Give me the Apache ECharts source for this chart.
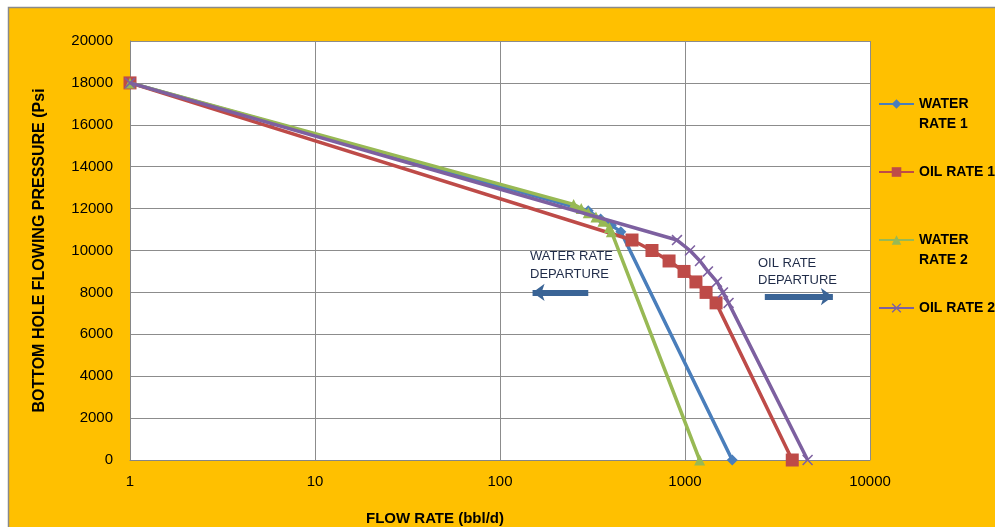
<!DOCTYPE html>
<html><head><meta charset="utf-8">
<script src="https://cdn.jsdelivr.net/npm/echarts@6/dist/echarts.min.js"></script>
<style>html,body{margin:0;padding:0;background:#fff}#c{width:995px;height:527px}</style>
</head><body><div id="c"></div><script>
// ---- data ----
const seriesNames = ['WATER RATE 1', 'OIL RATE 1', 'WATER RATE 2', 'OIL RATE 2'];
const legendLabels = [' \nWATER\nRATE 1', 'OIL RATE 1', ' \nWATER\nRATE 2', 'OIL RATE 2'];
const water1Rate = [1, 300, 350, 400, 450, 1800];
const water1Pwf  = [18000, 11900, 11500, 11200, 10900, 0];
const oil1Rate = [1, 517, 663, 820, 988, 1146, 1300, 1472, 3800];
const oil1Pwf  = [18000, 10500, 10000, 9500, 9000, 8500, 8000, 7500, 0];
const water2Rate = [1, 250, 275, 300, 330, 360, 390, 400, 1200];
const water2Pwf  = [18000, 12200, 12000, 11800, 11600, 11400, 11100, 10900, 0];
const oil2Rate = [1, 905, 1064, 1205, 1331, 1489, 1604, 1720, 4600];
const oil2Pwf  = [18000, 10500, 10000, 9500, 9000, 8500, 8000, 7500, 0];
const xTickLabels = ['1', '10', '100', '1000', '10000'];
const yTickLabels = ['0','2000','4000','6000','8000','10000','12000','14000','16000','18000','20000'];
const waterArrow = [[300, 8000], [150, 8000]];
const oilArrow = [[2700, 7800], [6300, 7800]];

// ---- chart ----
const FONT = 'Liberation Sans, Arial, sans-serif';
const colors = ['#4A7EBB', '#BE4B48', '#98B954', '#7D60A0'];
const symbols = ['diamond', 'rect', 'triangle',
  'path://M0,1L1,0L5,4L9,0L10,1L6,5L10,9L9,10L5,6L1,10L0,9L4,5Z'];
const symbolSizes = [11, 13, 11, 11];
const rates = [water1Rate, oil1Rate, water2Rate, oil2Rate];
const pwfs = [water1Pwf, oil1Pwf, water2Pwf, oil2Pwf];

const arrowStyle = {
  silent: true, symbol: ['none', 'arrow'], symbolSize: [13, 12],
  label: { show: false },
  lineStyle: { color: '#3A6496', width: 6, type: 'solid' },
  emphasis: { disabled: true }
};

const series = seriesNames.map((name, i) => ({
  name, type: 'line', smooth: false,
  data: rates[i].map((r, k) => [r, pwfs[i][k]]),
  symbol: symbols[i], symbolSize: symbolSizes[i], showSymbol: true,
  itemStyle: { color: colors[i] },
  lineStyle: { color: colors[i], width: 3.5 },
  z: 2 + i
}));
series[0].markLine = Object.assign({}, arrowStyle, {
  data: [[{ coord: waterArrow[0] }, { coord: waterArrow[1] }]]
});
series[1].markLine = Object.assign({}, arrowStyle, {
  data: [[{ coord: oilArrow[0] }, { coord: oilArrow[1] }]]
});

const chart = echarts.init(document.getElementById('c'), null, { renderer: 'canvas' });
chart.setOption({
  animation: false,
  backgroundColor: '#ffffff',
  color: colors,
  textStyle: { fontFamily: FONT },
  grid: { left: 130, right: 125, top: 41, bottom: 67, show: true, backgroundColor: '#ffffff',
    borderWidth: 0, containLabel: false, outerBoundsMode: 'none' },
  legend: {
    orient: 'vertical', left: 878, top: 74, padding: 0, itemGap: 28,
    itemWidth: 35, itemHeight: 12,
    data: seriesNames,
    formatter: n => legendLabels[seriesNames.indexOf(n)],
    textStyle: { fontFamily: FONT, fontSize: 14, fontWeight: 'bold', color: '#000', lineHeight: 20 }
  },
  xAxis: {
    type: 'log', logBase: 10, min: 1, max: 10000,
    name: 'FLOW RATE (bbl/d)', nameLocation: 'middle', nameGap: 51,
    nameTextStyle: { fontFamily: FONT, fontSize: 15, fontWeight: 'bold', color: '#000', padding: [0, 130, 0, 0] },
    axisLine: { show: true, lineStyle: { color: '#868686', width: 1 } },
    axisTick: { show: false },
    axisLabel: { margin: 14, fontFamily: FONT, fontSize: 15, color: '#000',
      formatter: v => xTickLabels[Math.round(Math.log10(v))] },
    splitLine: { show: true, lineStyle: { color: '#8C8C8C', width: 1 } },
    minorSplitLine: { show: false }
  },
  yAxis: {
    type: 'value', min: 0, max: 20000, interval: 2000,
    name: 'BOTTOM HOLE FLOWING PRESSURE (Psi', nameLocation: 'middle', nameGap: 82, nameRotate: 90,
    nameTextStyle: { fontFamily: FONT, fontSize: 16, fontWeight: 'bold', color: '#000' },
    axisLine: { show: true, lineStyle: { color: '#868686', width: 1 } },
    axisTick: { show: false },
    axisLabel: { margin: 17, fontFamily: FONT, fontSize: 15, color: '#000',
      formatter: v => yTickLabels[Math.round(v / 2000)] },
    splitLine: { show: true, lineStyle: { color: '#8C8C8C', width: 1 } }
  },
  graphic: [
    { type: 'rect', z: -10, silent: true,
      shape: { x: 8.5, y: 7.5, width: 1000, height: 600 },
      style: { fill: '#FFC000', stroke: '#8A8A8A', lineWidth: 1.5 } },
    { type: 'text', left: 530, top: 247, silent: true,
      style: { text: 'WATER RATE\nDEPARTURE', fill: '#1F2B48', font: '13px ' + FONT, lineHeight: 18 } },
    { type: 'text', left: 758, top: 255, silent: true,
      style: { text: 'OIL RATE\nDEPARTURE', fill: '#1F2B48', font: '13px ' + FONT, lineHeight: 17 } }
  ],
  series
});
</script></body></html>
